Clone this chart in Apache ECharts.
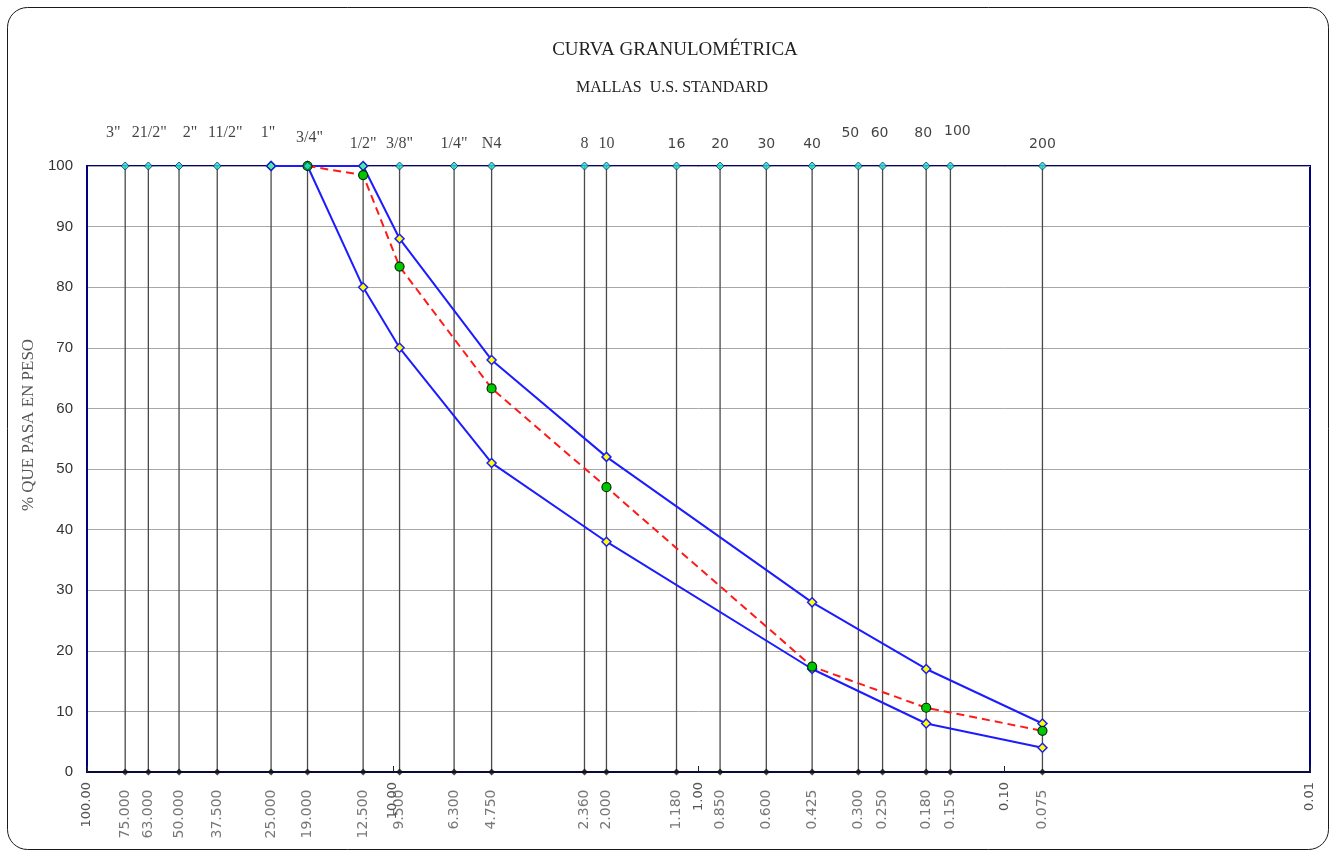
<!DOCTYPE html>
<html>
<head>
<meta charset="utf-8">
<title>Curva granulométrica</title>
<script src="https://cdn.jsdelivr.net/npm/echarts@6/dist/echarts.min.js"></script>
<style>
  html, body { margin: 0; padding: 0; background: #ffffff; }
  #chart { width: 1335px; height: 854px; }
</style>
</head>
<body>
<div id="chart"></div>
<script>
// Sieve openings (mm) and their U.S. Standard designations
const sieveSizes = [75, 63, 50, 37.5, 25, 19, 12.5, 9.5, 6.3, 4.75, 2.36, 2.0, 1.18, 0.85, 0.6, 0.425, 0.3, 0.25, 0.18, 0.15, 0.075];
const sieveNames = ['3"', '21/2"', '2"', '11/2"', '1"', '3/4"', '1/2"', '3/8"', '1/4"', 'N4', '8', '10', '16', '20', '30', '40', '50', '60', '80', '100', '200'];
const sieveSizeLabels = ['75.000', '63.000', '50.000', '37.500', '25.000', '19.000', '12.500', '9.500', '6.300', '4.750', '2.360', '2.000', '1.180', '0.850', '0.600', '0.425', '0.300', '0.250', '0.180', '0.150', '0.075'];

// Specification band (upper and lower limits, % passing)
const upperSizes = [25, 19, 12.5, 9.5, 4.75, 2.0, 0.425, 0.18, 0.075];
const upperPass  = [100, 100, 100, 88, 68, 52, 28, 17, 8];
const lowerSizes = [25, 19, 12.5, 9.5, 4.75, 2.0, 0.425, 0.18, 0.075];
const lowerPass  = [100, 100, 80, 70, 51, 38, 17, 8, 4];

// Tested sample (% passing)
const sampleSizes = [19, 12.5, 9.5, 4.75, 2.0, 0.425, 0.18, 0.075];
const samplePass  = [100, 98.5, 83.4, 63.3, 47.0, 17.4, 10.6, 6.8];

// Y-axis range
const yTicks = { min: 0, max: 100, step: 10 };

// Layout nudges for the mesh names drawn above the frame
const nameNudge = {
  '3"': [-12, -11], '21/2"': [1, -11], '2"': [11, -11], '11/2"': [8, -11],
  '1"': [-3, -11], '3/4"': [2, -6], '50': [-8, -11], '60': [-3, -11],
  '80': [-3, -11], '100': [7, -13]
};
const sansNames = new Set(['16', '20', '30', '40', '50', '60', '80', '100', '200']);

const SERIF = '"Liberation Serif", "DejaVu Serif", serif';
const SANS = '"DejaVu Sans", "Liberation Sans", sans-serif';

const pairs = (xs, ys) => xs.map((x, i) => [x, ys[i]]);

const topMarks = sieveSizes.map((s, i) => {
  const name = sieveNames[i];
  const sans = sansNames.has(name);
  return {
    value: [s, 100],
    label: {
      formatter: name,
      offset: nameNudge[name] || [0, 0],
      fontFamily: sans ? SANS : SERIF,
      fontSize: sans ? 14 : 16
    }
  };
});

const bottomMarks = sieveSizes.map((s, i) => ({
  value: [s, 0],
  label: { formatter: sieveSizeLabels[i] }
}));

const chart = echarts.init(document.getElementById('chart'), null, { renderer: 'canvas' });

chart.setOption({
  animation: false,
  backgroundColor: '#ffffff',
  graphic: [
    {
      type: 'rect', z: 0, silent: true,
      shape: { x: 7.5, y: 7.5, width: 1321, height: 842, r: 20 },
      style: { fill: 'none', stroke: '#1a1a1a', lineWidth: 1 }
    },
    {
      type: 'text', silent: true, x: 675, y: 50,
      style: { text: 'CURVA GRANULOMÉTRICA', font: '19px ' + SERIF, fill: '#222', textAlign: 'center', textVerticalAlign: 'middle' }
    },
    {
      type: 'text', silent: true, x: 672, y: 88,
      style: { text: 'MALLAS  U.S. STANDARD', font: '16px ' + SERIF, fill: '#222', textAlign: 'center', textVerticalAlign: 'middle' }
    },
    {
      type: 'text', silent: true, x: 29, y: 425, rotation: Math.PI / 2,
      style: { text: '% QUE PASA EN PESO', font: '17px ' + SERIF, fill: '#555', textAlign: 'center', textVerticalAlign: 'middle' }
    }
  ],
  grid: {
    left: 87, right: 25, top: 166, bottom: 82,
    show: true, borderColor: '#000080', borderWidth: 2
  },
  xAxis: {
    type: 'log', logBase: 10, min: 0.01, max: 100, inverse: true,
    axisLine: { onZero: false, lineStyle: { color: '#0a0a3a', width: 2 } },
    axisTick: { show: true, inside: true, length: 6, lineStyle: { color: '#222' } },
    splitLine: { show: false },
    minorTick: { show: false },
    axisLabel: {
      rotate: 90, margin: 10, fontSize: 13, color: '#555', fontFamily: SANS,
      formatter: v => Number(v).toFixed(2)
    }
  },
  yAxis: {
    type: 'value', min: yTicks.min, max: yTicks.max, interval: yTicks.step,
    axisLine: { show: true, lineStyle: { color: '#000080', width: 2 } },
    axisTick: { show: false },
    axisLabel: { fontSize: 15, color: '#333', margin: 14, fontFamily: '"Liberation Sans", Arial, sans-serif' },
    splitLine: { lineStyle: { color: '#a8a8a8', width: 1 } }
  },
  series: [
    {
      // vertical line at each sieve opening, 0 % to 100 %
      type: 'custom', z: 1, silent: true,
      data: sieveSizes.map(s => [s]),
      encode: { x: 0 },
      renderItem: (params, api) => {
        const s = api.value(0);
        const p0 = api.coord([s, 0]);
        const p1 = api.coord([s, 100]);
        return {
          type: 'line',
          shape: { x1: p0[0], y1: p0[1], x2: p1[0], y2: p1[1] },
          style: { stroke: '#4a4a4a', lineWidth: 1.3 }
        };
      }
    },
    {
      name: 'Límite superior', type: 'line', z: 3,
      data: pairs(upperSizes, upperPass),
      lineStyle: { color: '#1c1cff', width: 2 },
      symbol: 'diamond', symbolSize: 9, showAllSymbol: true,
      itemStyle: { color: '#ffff00', borderColor: '#1c1cff', borderWidth: 1.5 }
    },
    {
      name: 'Límite inferior', type: 'line', z: 3,
      data: pairs(lowerSizes, lowerPass),
      lineStyle: { color: '#1c1cff', width: 2 },
      symbol: 'diamond', symbolSize: 9, showAllSymbol: true,
      itemStyle: { color: '#ffff00', borderColor: '#1c1cff', borderWidth: 1.5 }
    },
    {
      name: 'Muestra', type: 'line', z: 4,
      data: pairs(sampleSizes, samplePass),
      lineStyle: { color: '#ff1a1a', width: 2, type: [8, 5] },
      symbol: 'circle', symbolSize: 9, showAllSymbol: true,
      itemStyle: { color: '#00c800', borderColor: '#062a06', borderWidth: 1.2 }
    },
    {
      // mesh markers along the 100 % line
      type: 'scatter', z: 6, silent: true,
      data: topMarks,
      symbol: 'diamond', symbolSize: 8,
      itemStyle: { color: '#22dede', borderColor: '#123040', borderWidth: 1 },
      label: { show: true, position: 'top', distance: 10, color: '#111' }
    },
    {
      // mesh markers along the 0 % line with opening sizes
      type: 'scatter', z: 6, silent: true,
      data: bottomMarks,
      symbol: 'diamond', symbolSize: 7,
      itemStyle: { color: '#111111' },
      label: {
        show: true, position: 'bottom', distance: 14, rotate: 90,
        align: 'right', verticalAlign: 'middle',
        fontSize: 14, color: '#555', fontFamily: SANS
      }
    }
  ]
});
</script>
</body>
</html>
